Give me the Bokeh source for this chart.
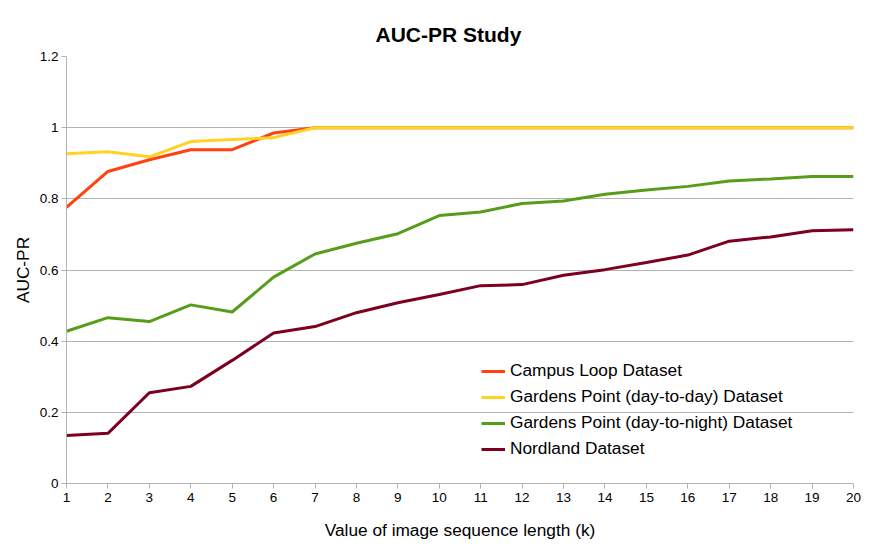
from bokeh.plotting import figure
from bokeh.models import FixedTicker, Legend, LegendItem, Title
from bokeh.embed import file_html
from bokeh.resources import INLINE

k = list(range(1, 21))
campus = [0.776, 0.877, 0.910, 0.938, 0.938, 0.985, 1.0, 1.0, 1.0, 1.0,
          1.0, 1.0, 1.0, 1.0, 1.0, 1.0, 1.0, 1.0, 1.0, 1.0]
gp_day = [0.927, 0.932, 0.918, 0.961, 0.967, 0.972, 1.0, 1.0, 1.0, 1.0,
          1.0, 1.0, 1.0, 1.0, 1.0, 1.0, 1.0, 1.0, 1.0, 1.0]
gp_night = [0.428, 0.466, 0.455, 0.502, 0.482, 0.580, 0.645, 0.675, 0.702, 0.753,
            0.763, 0.787, 0.794, 0.813, 0.825, 0.835, 0.850, 0.856, 0.863, 0.863]
nordland = [0.135, 0.141, 0.255, 0.273, 0.346, 0.423, 0.441, 0.480, 0.508, 0.531,
            0.556, 0.559, 0.585, 0.601, 0.621, 0.642, 0.681, 0.693, 0.710, 0.713]
names = ["Campus Loop Dataset", "Gardens Point (day-to-day) Dataset",
         "Gardens Point (day-to-night) Dataset", "Nordland Dataset"]
colors = ["#ff420e", "#ffd320", "#579d1c", "#7e0021"]
y_ticks = [0, 0.2, 0.4, 0.6, 0.8, 1, 1.2]
y_tick_labels = ["0", "0.2", "0.4", "0.6", "0.8", "1", "1.2"]

FONT = "Liberation Sans"
W, H = 880, 550
p = figure(width=W, height=H, x_range=(1, 20), y_range=(0, 1.2),
           output_backend="svg", toolbar_location=None,
           min_border_left=66, min_border_right=W - 853,
           min_border_top=56, min_border_bottom=H - 483)
p.outline_line_color = None
p.background_fill_color = "white"

t = Title(text="AUC-PR Study", align="left", text_font=FONT,
          text_font_size="21px", text_font_style="bold", text_color="black",
          standoff=21, offset=309)
p.add_layout(t, "above")

renderers = []
for ys, c in zip([campus, gp_day, gp_night, nordland], colors):
    r = p.line(k, ys, line_color=c, line_width=3)
    renderers.append(r)

legend = Legend(items=[LegendItem(label=n, renderers=[r]) for n, r in zip(names, renderers)],
                location=(415, 24), padding=0, margin=0, spacing=5,
                glyph_width=24, glyph_height=20, label_height=20,
                label_standoff=5, label_text_font=FONT,
                label_text_font_size="17.3px", label_text_color="black",
                background_fill_alpha=0, border_line_alpha=0)
p.add_layout(legend, "center")

p.xaxis.ticker = FixedTicker(ticks=k)
p.yaxis.ticker = FixedTicker(ticks=y_ticks)
p.yaxis.major_label_overrides = {v: s for v, s in zip(y_ticks, y_tick_labels)}

for ax in [p.xaxis, p.yaxis]:
    ax.axis_line_color = "#b3b3b3"
    ax.major_tick_line_color = "#b3b3b3"
    ax.minor_tick_line_color = None
    ax.major_tick_in = 0
    ax.major_tick_out = 5
    ax.major_label_text_font = FONT
    ax.major_label_text_font_size = "13.5px"
    ax.major_label_text_color = "black"
    ax.axis_label_text_font = FONT
    ax.axis_label_text_font_size = "17.3px"
    ax.axis_label_text_font_style = "normal"
    ax.axis_label_text_color = "black"

p.xaxis.axis_label = "Value of image sequence length (k)"
p.yaxis.axis_label = "AUC-PR"
p.xaxis.major_label_standoff = 4
p.yaxis.major_label_standoff = 3
p.xaxis.axis_label_standoff = 15
p.yaxis.axis_label_standoff = 4

p.xgrid.grid_line_color = None
p.ygrid.grid_line_color = "#b3b3b3"
p.ygrid.grid_line_width = 1

open("out.html", "w").write(file_html(p, INLINE))
